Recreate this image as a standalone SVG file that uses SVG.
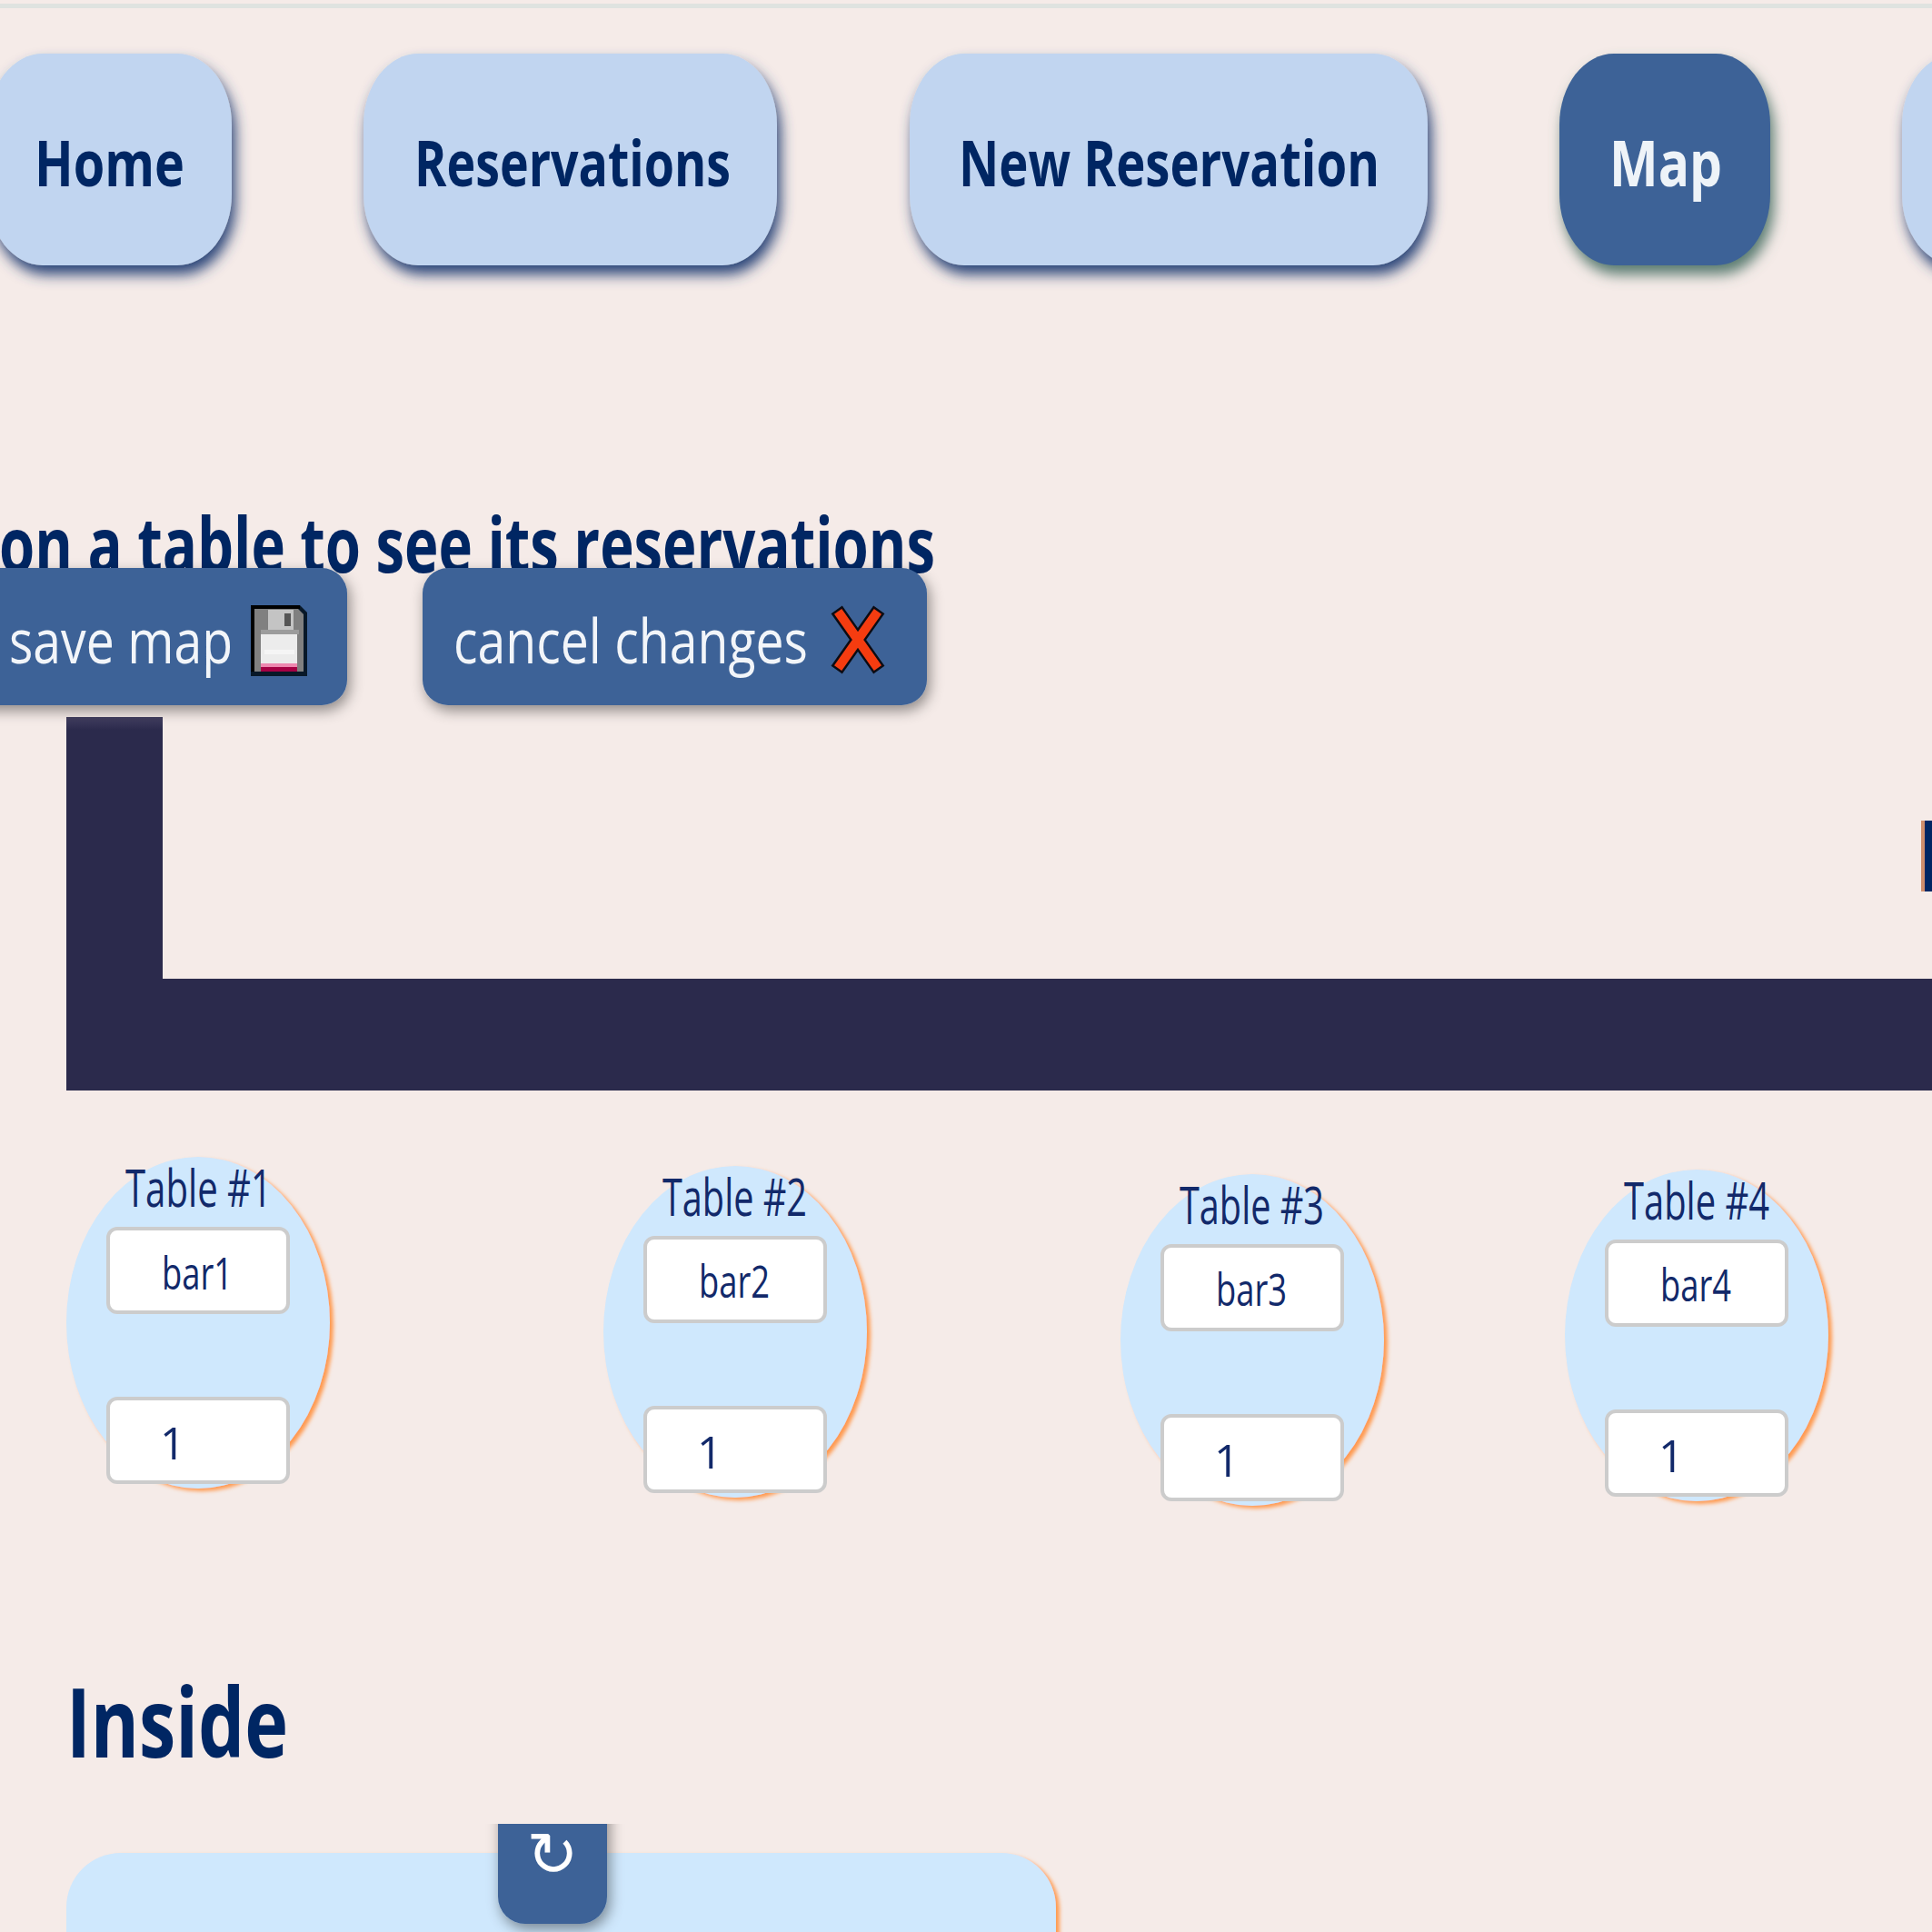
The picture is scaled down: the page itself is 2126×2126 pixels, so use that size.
<svg xmlns="http://www.w3.org/2000/svg" width="2126" height="2126" viewBox="0 0 2126 2126">
<style>
text{font-family:"Open Sans","Liberation Sans",sans-serif}
.nav{fill:#c1d5f0;filter:url(#navShadow)}
.navText{font-size:70px;font-weight:700;fill:#002663}
.head{fill:#002663;font-weight:700}
.act{fill:#3c6297;filter:url(#actShadow)}
.actText{font-size:67px;fill:#f2f5f9}
.tbl{fill:#cfe8fd;filter:url(#orange)}
.lbl{font-size:56px;fill:#12296a}
.inp{fill:#fff;stroke:#ccc;stroke-width:4}
.val{font-size:49px;fill:#12296a}
</style>
<defs>
<filter id="navShadow" x="-20%" y="-30%" width="140%" height="160%"><feDropShadow dx="4" dy="10" stdDeviation="7.500" flood-color="#2a4478"/></filter>
<filter id="mapShadow" x="-20%" y="-30%" width="140%" height="160%"><feDropShadow dx="4" dy="10" stdDeviation="7.500" flood-color="#587a70"/></filter>
<filter id="actShadow" x="-20%" y="-30%" width="140%" height="160%"><feDropShadow dx="3" dy="6" stdDeviation="7.500" flood-color="#000" flood-opacity=".42"/></filter>
<filter id="orange" x="-10%" y="-10%" width="120%" height="120%"><feDropShadow dx="4" dy="3" stdDeviation="2" flood-color="#ff9a50"/></filter>
<linearGradient id="wallTop" x1="0" y1="0" x2="0" y2="1"><stop offset="0" stop-color="#423f60"/><stop offset="1" stop-color="#2b2a4c"/></linearGradient>
<clipPath id="refreshClip"><rect x="500" y="2007" width="220" height="119"/></clipPath>
<g id="inputs">
<rect class="inp" x="119" y="1352" width="198" height="92" rx="10"/>
<rect class="inp" x="119" y="1539" width="198" height="92" rx="10"/>
</g>
</defs>
<rect width="2126" height="2126" fill="#f5ebe8"/>
<rect y="4" width="2126" height="5" fill="#dfe3e0"/>

<g id="nav-home"><rect class="nav" x="-13" y="59" width="268" height="233" rx="60" ry="78"/><text class="navText" x="38" y="205" textLength="165" lengthAdjust="spacingAndGlyphs">Home</text></g>
<g id="nav-reservations"><rect class="nav" x="400" y="59" width="455" height="233" rx="60" ry="78"/><text class="navText" x="456" y="205" textLength="348" lengthAdjust="spacingAndGlyphs">Reservations</text></g>
<g id="nav-new"><rect class="nav" x="1001" y="59" width="570" height="233" rx="60" ry="78"/><text class="navText" x="1055" y="205" textLength="463" lengthAdjust="spacingAndGlyphs">New Reservation</text></g>
<g id="nav-map"><rect x="1716" y="59" width="232" height="233" rx="60" ry="78" fill="#3c6297" filter="url(#mapShadow)"/><text class="navText" x="1771" y="205" textLength="124" lengthAdjust="spacingAndGlyphs" style="fill:#eef3f8">Map</text></g>
<g id="nav-next"><rect class="nav" x="2093" y="59" width="200" height="233" rx="60" ry="78"/></g>

<text id="instruction" class="head" x="-1" y="630" font-size="84" textLength="1030" lengthAdjust="spacingAndGlyphs">on a table to see its reservations</text>

<g id="wall">
<path d="M73 789H179V1077H2126V1200H73Z" fill="#2b2a4c"/>
<rect x="73" y="789" width="106" height="14" fill="url(#wallTop)"/>
</g>

<g id="btn-save">
<rect class="act" x="-60" y="625" width="442" height="151" rx="28"/>
<text class="actText" x="10" y="730" textLength="246" lengthAdjust="spacingAndGlyphs">save map</text>
<g id="floppy">
<path d="M276 666H330L338 674V744H276Z" fill="#081828"/>
<path d="M276 666H330V670H280V739H276Z" fill="#000"/>
<path d="M280 670H328L334 676V739H280Z" fill="#808080"/>
<rect x="295" y="671" width="28" height="22" fill="#c4c4c4"/>
<rect x="313" y="675" width="7" height="14" fill="#555"/>
<rect x="287" y="693" width="42" height="5" fill="#9c9c9c"/>
<rect x="287" y="698" width="40" height="32" fill="#ececec"/>
<rect x="291" y="715" width="33" height="5" fill="#f5f5f5"/>
<rect x="287" y="730" width="40" height="4" fill="#ee88b0"/>
<rect x="287" y="734" width="40" height="5" fill="#a50044"/>
</g>
</g>

<g id="btn-cancel">
<rect class="act" x="465" y="625" width="555" height="151" rx="28"/>
<text class="actText" x="499" y="730" textLength="390" lengthAdjust="spacingAndGlyphs">cancel changes</text>
<g id="cross" fill="none" stroke-linecap="square">
<path d="M925 677L963 731M963 677L925 731" stroke="#0c0c14" stroke-width="15"/>
<path d="M925 677L963 731M963 677L925 731" stroke="#f53c10" stroke-width="10"/>
</g>
</g>

<g id="next-heading-stem">
<rect x="2114" y="903" width="4" height="78" fill="#cf8e6c"/>
<rect x="2118" y="903" width="8" height="78" fill="#002663"/>
</g>

<g id="table-1">
<ellipse class="tbl" cx="218" cy="1455.500" rx="145" ry="182.500"/>
<use href="#inputs"/>
<text class="lbl" x="138" y="1328" textLength="161" lengthAdjust="spacingAndGlyphs">Table #1</text>
<text class="val" x="178" y="1419" textLength="78" lengthAdjust="spacingAndGlyphs">bar1</text>
<text class="val" x="176" y="1606">1</text>
</g>
<g id="table-2" transform="translate(591 10)">
<ellipse class="tbl" cx="218" cy="1455.500" rx="145" ry="182.500"/>
<use href="#inputs"/>
<text class="lbl" x="138" y="1328" textLength="159" lengthAdjust="spacingAndGlyphs">Table #2</text>
<text class="val" x="178" y="1418" textLength="78" lengthAdjust="spacingAndGlyphs">bar2</text>
<text class="val" x="176" y="1606">1</text>
</g>
<g id="table-3" transform="translate(1160 19)">
<ellipse class="tbl" cx="218" cy="1455.500" rx="145" ry="182.500"/>
<use href="#inputs"/>
<text class="lbl" x="138" y="1328" textLength="159" lengthAdjust="spacingAndGlyphs">Table #3</text>
<text class="val" x="178" y="1418" textLength="78" lengthAdjust="spacingAndGlyphs">bar3</text>
<text class="val" x="176" y="1606">1</text>
</g>
<g id="table-4" transform="translate(1649 14)">
<ellipse class="tbl" cx="218" cy="1455.500" rx="145" ry="182.500"/>
<use href="#inputs"/>
<text class="lbl" x="138" y="1328" textLength="160" lengthAdjust="spacingAndGlyphs">Table #4</text>
<text class="val" x="178" y="1418" textLength="78" lengthAdjust="spacingAndGlyphs">bar4</text>
<text class="val" x="176" y="1606">1</text>
</g>

<text id="inside-heading" class="head" x="73" y="1934" font-size="106" textLength="244" lengthAdjust="spacingAndGlyphs">Inside</text>

<g id="inside-panel">
<rect class="tbl" x="73" y="2039" width="1089" height="200" rx="60"/>
</g>
<g id="btn-refresh">
<g clip-path="url(#refreshClip)">
<rect class="act" x="548" y="1960" width="120" height="157" rx="30"/>
</g>
<text x="608" y="2064" text-anchor="middle" font-size="68" fill="#fff" style="font-family:'DejaVu Sans',sans-serif">↻</text>
</g>
</svg>
